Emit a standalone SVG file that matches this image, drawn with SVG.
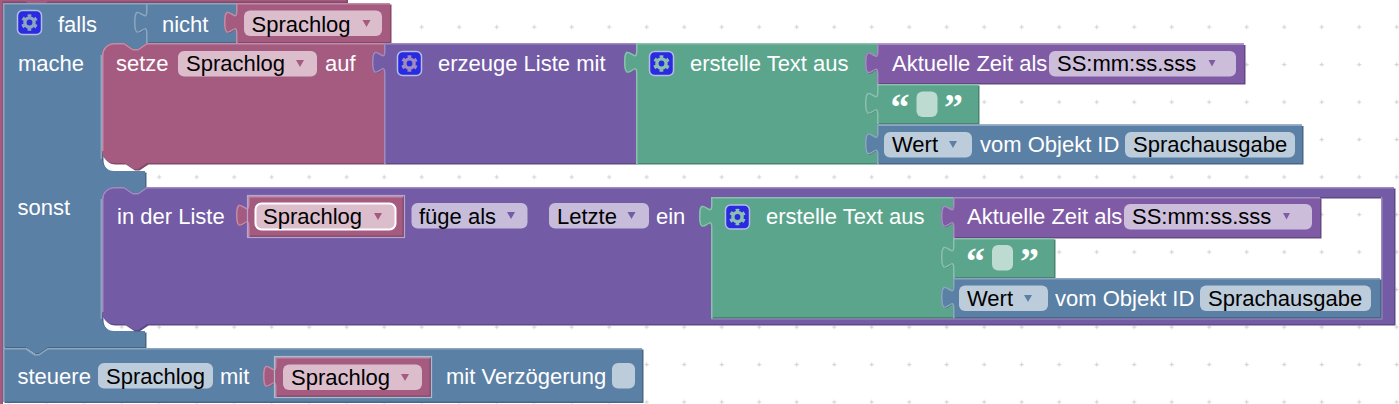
<svg xmlns="http://www.w3.org/2000/svg" width="1399" height="404" viewBox="0 0 1399 404">
<style>
text{font-family:"Liberation Sans",Arial,sans-serif;font-size:22px}
.w{fill:#fff}.b{fill:#000}
.q{font-family:"Liberation Serif","Times New Roman",serif;font-size:38px;font-weight:bold;fill:#fff}
.h{fill:none;stroke-width:1.5}
.d{transform:translate(1.5px,1.5px)}
.blue{fill:#5b80a5}.dblue{fill:#496684}.hblue{stroke:#8ca6c0}.fblue{fill:#bdccdb}
.pink{fill:#a55b80}.dpink{fill:#844966}.hpink{stroke:#c08ca6}.fpink{fill:#dbbdcc}
.list{fill:#745ba5}.dlist{fill:#5d4984}.hlist{stroke:#9e8cc0}.flist{fill:#c7bddb}
.green{fill:#5ba58c}.dgreen{fill:#498470}.hgreen{stroke:#8cc0ae}.fgreen{fill:#bddbd1}
.date{fill:#805ba5}.ddate{fill:#664984}.hdate{stroke:#a68cc0}.fdate{fill:#ccbddb}
.ic{fill:#2a2ae0;stroke:#b4bde6;stroke-width:1.5}
</style>
<defs>
<pattern id="grid" x="381.7" y="174.5" width="37.5" height="37.5" patternUnits="userSpaceOnUse"><path d="M.5 2.5h4M2.5 .5v4" stroke="#d4d4d4" stroke-width="1.2" fill="none"/></pattern>
<g id="gear"><circle r="4.6" fill="none" stroke="currentColor" stroke-width="3.4"/><circle r="7" fill="none" stroke="currentColor" stroke-width="2.6" stroke-dasharray="3.6 3.73" transform="rotate(-105)"/></g>
</defs>
<rect width="1399" height="404" fill="#fff"/>
<rect width="1399" height="404" fill="url(#grid)"/>

<g id="outer">
<path class="dpink" d="M0,0H348V3H48l-9,6.500h-4.500l-9,-6.500H3V404H0z"/>
<path class="pink" d="M0,0H346.500V1.500H48l-9,6.500h-4.500l-9,-6.500H2.500V404H0z"/>
</g>

<g id="falls">
<path class="dblue d" d="M3,3H146V43H147l-9,6h-4.5l-9,-6H114a12,12 0 0 0 -12,12V159a12,12 0 0 0 12,12H145V187H147l-9,6h-4.5l-9,-6H114a12,12 0 0 0 -12,12V319a12,12 0 0 0 12,12H145V347H48l-9,6h-4.5l-9,-6H3z"/>
<path class="blue" d="M3,3H146V43H147l-9,6h-4.5l-9,-6H114a12,12 0 0 0 -12,12V159a12,12 0 0 0 12,12H145V187H147l-9,6h-4.5l-9,-6H114a12,12 0 0 0 -12,12V319a12,12 0 0 0 12,12H145V347H48l-9,6h-4.5l-9,-6H3z"/>
<path class="h hblue" d="M3.750,348V3.750H146M101.250,55V159M101.250,199V319"/>
<rect class="ic" x="17.500" y="10.500" width="24" height="24" rx="5"/>
<use href="#gear" transform="translate(29.500 22.500)" color="#8ca6c0"/>
<text class="w" x="58" y="32">falls</text>
<text class="w" x="18" y="71">mache</text>
<text class="w" x="17.500" y="215">sonst</text>
</g>

<g id="nicht">
<path class="dblue d" d="M146,3H236V42H146V33c0,-15 -12,12 -12,-11.25s12,3.75 12,-11.25z"/>
<path class="blue" d="M146,3H236V42H146V33c0,-15 -12,12 -12,-11.25s12,3.75 12,-11.25z"/>
<path class="h hblue" d="M146.750,43V33.500c0,-15 -12,12 -12,-11.25s12,3.75 12,-11.25V3.750H236"/>
<text class="w" x="162" y="32">nicht</text>
</g>

<g id="sprachlog1">
<path class="dpink d" d="M236,3H390V42H236V33c0,-15 -12,12 -12,-11.25s12,3.75 12,-11.25z"/>
<path class="pink" d="M236,3H390V42H236V33c0,-15 -12,12 -12,-11.25s12,3.75 12,-11.25z"/>
<path class="h hpink" d="M236.750,43V33.500c0,-15 -12,12 -12,-11.25s12,3.75 12,-11.25V3.750H390"/>
<rect class="fpink" x="244" y="10.500" width="138" height="25.500" rx="6"/>
<text class="b" x="251.500" y="32">Sprachlog</text>
<path class="pink" d="M362.500,20h8l-4,7z"/>
</g>

<g id="setze">
<path class="dpink d" d="M114,43H124.500l9,6h4.500l9,-6H384V163H147l-9,6h-4.500l-9,-6H114a12,12 0 0 1 -12,-12V55a12,12 0 0 1 12,-12z"/>
<path class="pink" d="M114,43H124.500l9,6h4.500l9,-6H384V163H147l-9,6h-4.500l-9,-6H114a12,12 0 0 1 -12,-12V55a12,12 0 0 1 12,-12z"/>
<path class="h hpink" d="M102.750,151V55a11.250,11.250 0 0 1 11.250,-11.250H124l9,6h5l9,-6H384"/>
<text class="w" x="116" y="71">setze</text>
<rect class="fpink" x="178" y="51" width="139" height="25.500" rx="6"/>
<text class="b" x="186" y="71">Sprachlog</text>
<path class="pink" d="M296,60h8l-4,7z"/>
<text class="w" x="325" y="71">auf</text>
</g>

<g id="erzeugeListe">
<path class="dlist d" d="M384,43H636V163H384V73c0,-15 -12,12 -12,-11.25s12,3.75 12,-11.25z"/>
<path class="list" d="M384,43H636V163H384V73c0,-15 -12,12 -12,-11.25s12,3.75 12,-11.25z"/>
<path class="h hlist" d="M384.750,164V73.500c0,-15 -12,12 -12,-11.25s12,3.75 12,-11.25V43.750H636"/>
<rect class="ic" x="397.500" y="51.500" width="24" height="24" rx="5"/>
<use href="#gear" transform="translate(409.500 63.500)" color="#9e8cc0"/>
<text class="w" x="438" y="71">erzeuge Liste mit</text>
</g>

<g id="erstelleText1">
<path class="dgreen d" d="M636,43H877V163H636V73c0,-15 -12,12 -12,-11.25s12,3.75 12,-11.25z"/>
<path class="green" d="M636,43H877V163H636V73c0,-15 -12,12 -12,-11.25s12,3.75 12,-11.25z"/>
<path class="h hgreen" d="M636.750,164V73.500c0,-15 -12,12 -12,-11.25s12,3.75 12,-11.25V43.750H877"/>
<rect class="ic" x="649.500" y="51.500" width="24" height="24" rx="5"/>
<use href="#gear" transform="translate(661.500 63.500)" color="#8cc0ae"/>
<text class="w" x="690" y="71">erstelle Text aus</text>
</g>

<g id="zeit1">
<path class="ddate d" d="M877,43.500H1244V83H877V73.500c0,-15 -12,12 -12,-11.25s12,3.75 12,-11.25z"/>
<path class="date" d="M877,43.500H1244V83H877V73.500c0,-15 -12,12 -12,-11.25s12,3.75 12,-11.25z"/>
<path class="h hdate" d="M877.750,84V74c0,-15 -12,12 -12,-11.25s12,3.75 12,-11.25V44.250H1244"/>
<text class="w" x="892" y="71">Aktuelle Zeit als</text>
<rect class="fdate" x="1049" y="51" width="187" height="25.500" rx="6"/>
<text class="b" x="1057" y="71">SS:mm:ss.sss</text>
<path class="date" d="M1208.500,60h7l-3.500,6.500z"/>
</g>

<g id="leer1">
<path class="dgreen d" d="M877,84H978V123H877V114c0,-15 -12,12 -12,-11.25s12,3.75 12,-11.25z"/>
<path class="green" d="M877,84H978V123H877V114c0,-15 -12,12 -12,-11.25s12,3.75 12,-11.25z"/>
<path class="h hgreen" d="M877.750,124V114.500c0,-15 -12,12 -12,-11.25s12,3.75 12,-11.25V84.750H978"/>
<text class="q" x="890.500" y="120">“</text>
<rect class="fgreen" x="916.500" y="91.500" width="21" height="25.500" rx="6"/>
<text class="q" x="944" y="120">”</text>
</g>

<g id="wert1">
<path class="dblue d" d="M877,124.500H1302V163H877V154.500c0,-15 -12,12 -12,-11.25s12,3.75 12,-11.25z"/>
<path class="blue" d="M877,124.500H1302V163H877V154.500c0,-15 -12,12 -12,-11.25s12,3.75 12,-11.25z"/>
<path class="h hblue" d="M877.750,164V155c0,-15 -12,12 -12,-11.25s12,3.75 12,-11.25V125.250H1302"/>
<rect class="fblue" x="884" y="132" width="88" height="25.500" rx="6"/>
<text class="b" x="892" y="152">Wert</text>
<path class="blue" d="M949,141h8l-4,7z"/>
<text class="w" x="980" y="152">vom Objekt ID</text>
<rect class="fblue" x="1125" y="132" width="170" height="25.500" rx="6"/>
<text class="b" x="1133" y="152">Sprachausgabe</text>
</g>

<g id="inDerListe">
<path class="dlist d" d="M114,187H124.500l9,6h4.500l9,-6H1394V324H147l-9,6h-4.500l-9,-6H114a12,12 0 0 1 -12,-12V199a12,12 0 0 1 12,-12zM711,197V318H1381V197z"/>
<path class="list" d="M114,187H124.500l9,6h4.500l9,-6H1394V324H147l-9,6h-4.500l-9,-6H114a12,12 0 0 1 -12,-12V199a12,12 0 0 1 12,-12zM711,197V318H1381V197z"/>
<path class="h hlist" d="M102.750,312V199a11.250,11.250 0 0 1 11.250,-11.250H124l9,6h5l9,-6H1394M1381.750,197V318.750H711"/>
<text class="w" x="117" y="224">in der Liste</text>
<rect class="flist" x="411.500" y="203" width="116" height="25.500" rx="6"/>
<text class="b" x="419" y="224">füge als</text>
<path class="list" d="M507,212h8l-4,7z"/>
<rect class="flist" x="549" y="203" width="100" height="25.500" rx="6"/>
<text class="b" x="557" y="224">Letzte</text>
<path class="list" d="M627.500,212h8l-4,7z"/>
<text class="w" x="656" y="224">ein</text>
</g>

<g id="sprachlog2">
<path class="dpink d" d="M248,196H402.500V235.500H248V226c0,-15 -12,12 -12,-11.25s12,3.75 12,-11.25z"/>
<path class="pink" d="M248,196H402.500V235.500H248V226c0,-15 -12,12 -12,-11.25s12,3.75 12,-11.25z"/>
<path class="h hpink" d="M248.750,237V226.500c0,-15 -12,12 -12,-11.25s12,3.75 12,-11.25V196.750H403"/>
<rect fill="none" stroke="#b3a6d2" stroke-width="1.200" x="247.500" y="195.500" width="157" height="42"/>
<rect class="fpink" x="255.500" y="203.500" width="140" height="26" rx="6" stroke="#fff" stroke-width="2"/>
<text class="b" x="263" y="224">Sprachlog</text>
<path class="pink" d="M374,213h8l-4,7z"/>
</g>

<g id="erstelleText2">
<path class="dgreen d" d="M711,197H953V317H711V227c0,-15 -12,12 -12,-11.25s12,3.75 12,-11.25z"/>
<path class="green" d="M711,197H953V317H711V227c0,-15 -12,12 -12,-11.25s12,3.75 12,-11.25z"/>
<path class="h hgreen" d="M711.750,318V227.500c0,-15 -12,12 -12,-11.25s12,3.75 12,-11.25V197.750H953"/>
<rect class="ic" x="725.500" y="205" width="24" height="24" rx="5"/>
<use href="#gear" transform="translate(737.500 217)" color="#8cc0ae"/>
<text class="w" x="766" y="224">erstelle Text aus</text>
</g>

<g id="zeit2">
<path class="ddate d" d="M953,197H1320V237H953V227c0,-15 -12,12 -12,-11.25s12,3.75 12,-11.25z"/>
<path class="date" d="M953,197H1320V237H953V227c0,-15 -12,12 -12,-11.25s12,3.75 12,-11.25z"/>
<path class="h hdate" d="M953.750,238V227.500c0,-15 -12,12 -12,-11.25s12,3.75 12,-11.25V197.750H1320"/>
<text class="w" x="967" y="224">Aktuelle Zeit als</text>
<rect class="fdate" x="1124" y="204" width="188" height="25.500" rx="6"/>
<text class="b" x="1132" y="224">SS:mm:ss.sss</text>
<path class="date" d="M1283,213h7l-3.500,6.500z"/>
</g>

<g id="leer2">
<path class="dgreen d" d="M953,238H1054V277H953V268c0,-15 -12,12 -12,-11.25s12,3.75 12,-11.25z"/>
<path class="green" d="M953,238H1054V277H953V268c0,-15 -12,12 -12,-11.25s12,3.75 12,-11.25z"/>
<path class="h hgreen" d="M953.750,278V268.500c0,-15 -12,12 -12,-11.25s12,3.75 12,-11.25V238.750H1054"/>
<text class="q" x="966" y="274">“</text>
<rect class="fgreen" x="992" y="245" width="21" height="25.500" rx="6"/>
<text class="q" x="1020" y="274">”</text>
</g>

<g id="wert2">
<path class="dblue d" d="M953,278H1380V317H953V308c0,-15 -12,12 -12,-11.25s12,3.75 12,-11.25z"/>
<path class="blue" d="M953,278H1380V317H953V308c0,-15 -12,12 -12,-11.25s12,3.75 12,-11.25z"/>
<path class="h hblue" d="M953.750,318V308.500c0,-15 -12,12 -12,-11.25s12,3.75 12,-11.25V278.750H1380"/>
<rect class="fblue" x="959" y="285.500" width="89" height="25.500" rx="6"/>
<text class="b" x="967" y="306">Wert</text>
<path class="blue" d="M1024,295h8l-4,7z"/>
<text class="w" x="1055" y="306">vom Objekt ID</text>
<rect class="fblue" x="1200" y="285.500" width="171" height="25.500" rx="6"/>
<text class="b" x="1208" y="306">Sprachausgabe</text>
</g>

<g id="steuere">
<path class="dblue d" d="M3,348H25.500l9,6h4.500l9,-6H642V401.500H3z"/>
<path class="blue" d="M3,348H25.500l9,6h4.500l9,-6H642V401.500H3z"/>
<path class="h hblue" d="M3.750,402V348.750H25.500l9,6h4.500l9,-6H642"/>
<text class="w" x="17.500" y="384">steuere</text>
<rect class="fblue" x="98" y="363" width="115" height="25.500" rx="6"/>
<text class="b" x="106" y="384">Sprachlog</text>
<text class="w" x="220" y="384">mit</text>
<text class="w" x="446" y="384">mit Verzögerung</text>
<rect class="fblue" x="612" y="363" width="23" height="25.500" rx="6"/>
</g>

<g id="sprachlog3">
<path class="dpink d" d="M275,357H429.500V395.500H275V387c0,-15 -12,12 -12,-11.25s12,3.75 12,-11.25z"/>
<path class="pink" d="M275,357H429.500V395.500H275V387c0,-15 -12,12 -12,-11.25s12,3.75 12,-11.25z"/>
<path class="h hpink" d="M275.750,397V387.500c0,-15 -12,12 -12,-11.25s12,3.75 12,-11.25V357.750H430"/>
<rect fill="none" stroke="#a8bcd0" stroke-width="1.200" x="274.500" y="356.500" width="157" height="41"/>
<rect class="fpink" x="283" y="364.500" width="139" height="25.500" rx="6"/>
<text class="b" x="291" y="385">Sprachlog</text>
<path class="pink" d="M401,374h8l-4,7z"/>
</g>
</svg>
